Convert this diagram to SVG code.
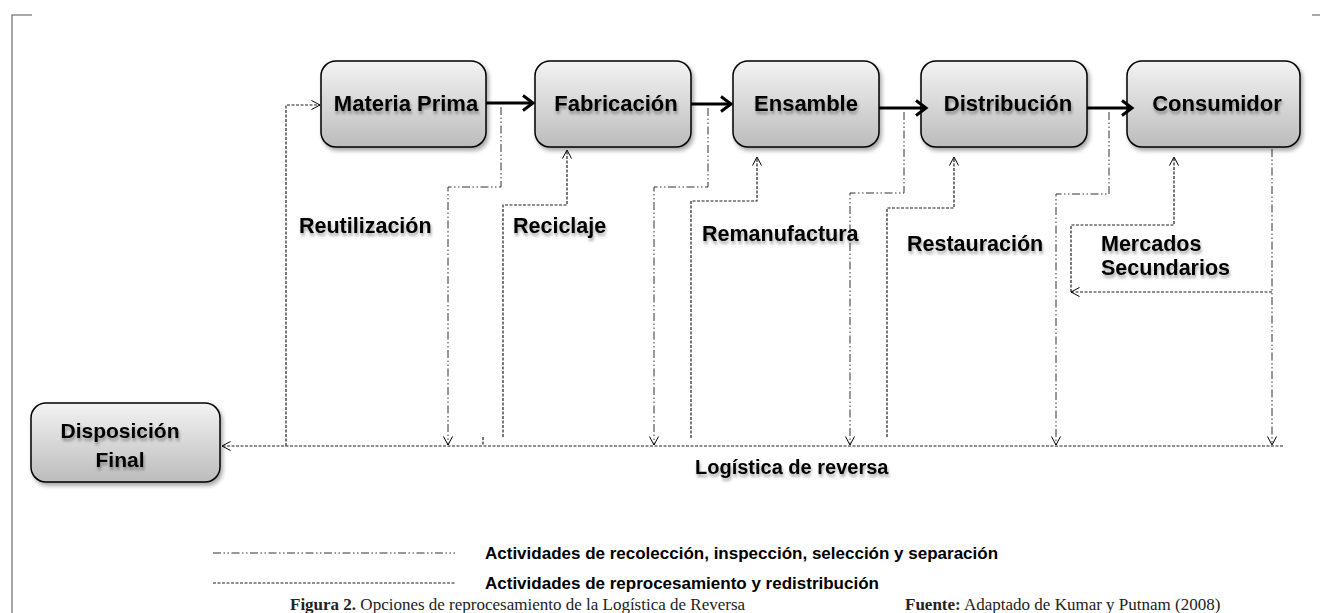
<svg xmlns="http://www.w3.org/2000/svg" width="1320" height="613" viewBox="0 0 1320 613">
<style>
.box{fill:url(#gb);stroke:#000;stroke-width:1.5;filter:url(#bsh)}
.bt{font-family:"Liberation Sans",Arial,sans-serif;font-weight:bold;font-size:22px;fill:#000;text-anchor:middle;filter:url(#tsh)}
.lb{font-family:"Liberation Sans",Arial,sans-serif;font-weight:bold;font-size:21.5px;fill:#000;filter:url(#tsh)}
.lg{font-family:"Liberation Sans",Arial,sans-serif;font-weight:bold;font-size:17px;fill:#000}
.cap{font-family:"Liberation Serif","Times New Roman",serif;font-size:17px;fill:#222}
.main{fill:none;stroke:#000;stroke-width:3;marker-end:url(#ab)}
.dd{fill:none;stroke:#333;stroke-width:1;stroke-dasharray:8 2.5 1.5 2.5 1.5 2.5}
.ds{fill:none;stroke:#222;stroke-width:1.2;stroke-dasharray:3 1.5}
.arr{marker-end:url(#at)}
.frame{fill:none;stroke:#8a8a8a;stroke-width:1.5}
</style>
<defs>
<linearGradient id="gb" x1="0" y1="0" x2="0" y2="1">
<stop offset="0" stop-color="#f3f3f3"/>
<stop offset="1" stop-color="#bcbcbc"/>
</linearGradient>
<filter id="bsh" x="-10%" y="-10%" width="130%" height="140%">
<feDropShadow dx="2" dy="3" stdDeviation="2" flood-color="#000" flood-opacity="0.35"/>
</filter>
<filter id="tsh" x="-10%" y="-20%" width="130%" height="170%">
<feDropShadow dx="1" dy="3" stdDeviation="1.6" flood-color="#000" flood-opacity="0.35"/>
</filter>
<marker id="ab" markerUnits="userSpaceOnUse" markerWidth="16" markerHeight="20" refX="13" refY="10" orient="auto">
<path d="M3,2.5 L13,10 L3,17.5" fill="none" stroke="#000" stroke-width="3" stroke-dasharray="none"/>
</marker>
<marker id="at" markerUnits="userSpaceOnUse" markerWidth="12" markerHeight="12" refX="10" refY="6" orient="auto">
<path d="M1.5,1.5 L10,6 L1.5,10.5" fill="none" stroke="#000" stroke-width="1" stroke-dasharray="none"/>
</marker>
</defs>
<rect width="1320" height="613" fill="#fff"/>
<g id="frame">
<path class="frame" d="M12,613 L12,15 L32,15"/>
<path class="frame" d="M1312,15 L1320,15"/>
</g>
<g id="node-materia-prima">
<rect class="box" x="321" y="61" width="165" height="86" rx="15"/>
<text class="bt" x="406" y="111">Materia Prima</text>
</g>
<g id="node-fabricacion">
<rect class="box" x="535" y="61" width="156" height="86" rx="15"/>
<text class="bt" x="616" y="111">Fabricación</text>
</g>
<g id="node-ensamble">
<rect class="box" x="733" y="61" width="146" height="86" rx="15"/>
<text class="bt" x="806" y="111">Ensamble</text>
</g>
<g id="node-distribucion">
<rect class="box" x="921" y="61" width="166" height="86" rx="15"/>
<text class="bt" x="1008" y="111">Distribución</text>
</g>
<g id="node-consumidor">
<rect class="box" x="1127" y="61" width="173" height="86" rx="15"/>
<text class="bt" x="1217" y="111">Consumidor</text>
</g>
<g id="node-disposicion-final">
<rect class="box" x="31" y="403" width="189" height="79" rx="15"/>
<text class="bt" x="120" y="438" style="font-size:21px">Disposición</text>
<text class="bt" x="120" y="467" style="font-size:21px">Final</text>
</g>
<g id="connectors">
<path class="main" d="M486,103 L533,103"/>
<path class="main" d="M691,104 L731,104"/>
<path class="main" d="M879,108 L926,108"/>
<path class="main" d="M1087,108 L1132,108"/>
<path class="ds arr" d="M1283,446 L222,446"/>
<path class="ds" d="M483,437 L483,446"/>
<path class="ds arr" d="M286,446 L286,105 L320,105"/>
<path class="dd arr" d="M501,107 L501,187 L448,187 L448,445"/>
<path class="ds arr" d="M503,437 L503,205 L567,205 L567,150"/>
<path class="dd arr" d="M708,108 L708,187 L654,187 L654,445"/>
<path class="ds arr" d="M691,438 L691,201 L757,201 L757,157"/>
<path class="dd arr" d="M904,112 L904,193 L850,193 L850,445"/>
<path class="ds arr" d="M887,437 L887,208 L954,208 L954,157"/>
<path class="dd arr" d="M1109,112 L1109,194 L1056,194 L1056,445"/>
<path class="ds arr" d="M1071,292 L1071,225 L1174,225 L1174,157"/>
<path class="ds arr" d="M1272,292 L1071,292"/>
<path class="dd arr" d="M1272,149 L1272,445"/>
</g>
<g id="labels">
<text class="lb" x="299" y="233">Reutilización</text>
<text class="lb" x="513" y="233">Reciclaje</text>
<text class="lb" x="702" y="241">Remanufactura</text>
<text class="lb" x="907" y="251">Restauración</text>
<text class="lb" x="1101" y="251">Mercados</text>
<text class="lb" x="1101" y="275">Secundarios</text>
<text class="lb" x="695" y="474" style="font-size:20px">Logística de reversa</text>
</g>
<g id="legend">
<path class="dd" d="M213,553 L455,553"/>
<text class="lg" x="485" y="559">Actividades de recolección, inspección, selección  y separación</text>
<path class="ds" d="M213,583 L455,583" style="stroke-width:1"/>
<text class="lg" x="485" y="589">Actividades de reprocesamiento y redistribución</text>
</g>
<g id="caption">
<text class="cap" x="290" y="610"><tspan font-weight="bold">Figura 2.</tspan> Opciones de reprocesamiento de la Logística de Reversa</text>
<text class="cap" x="905" y="610"><tspan font-weight="bold">Fuente:</tspan> Adaptado de Kumar y Putnam (2008)</text>
</g>
</svg>
